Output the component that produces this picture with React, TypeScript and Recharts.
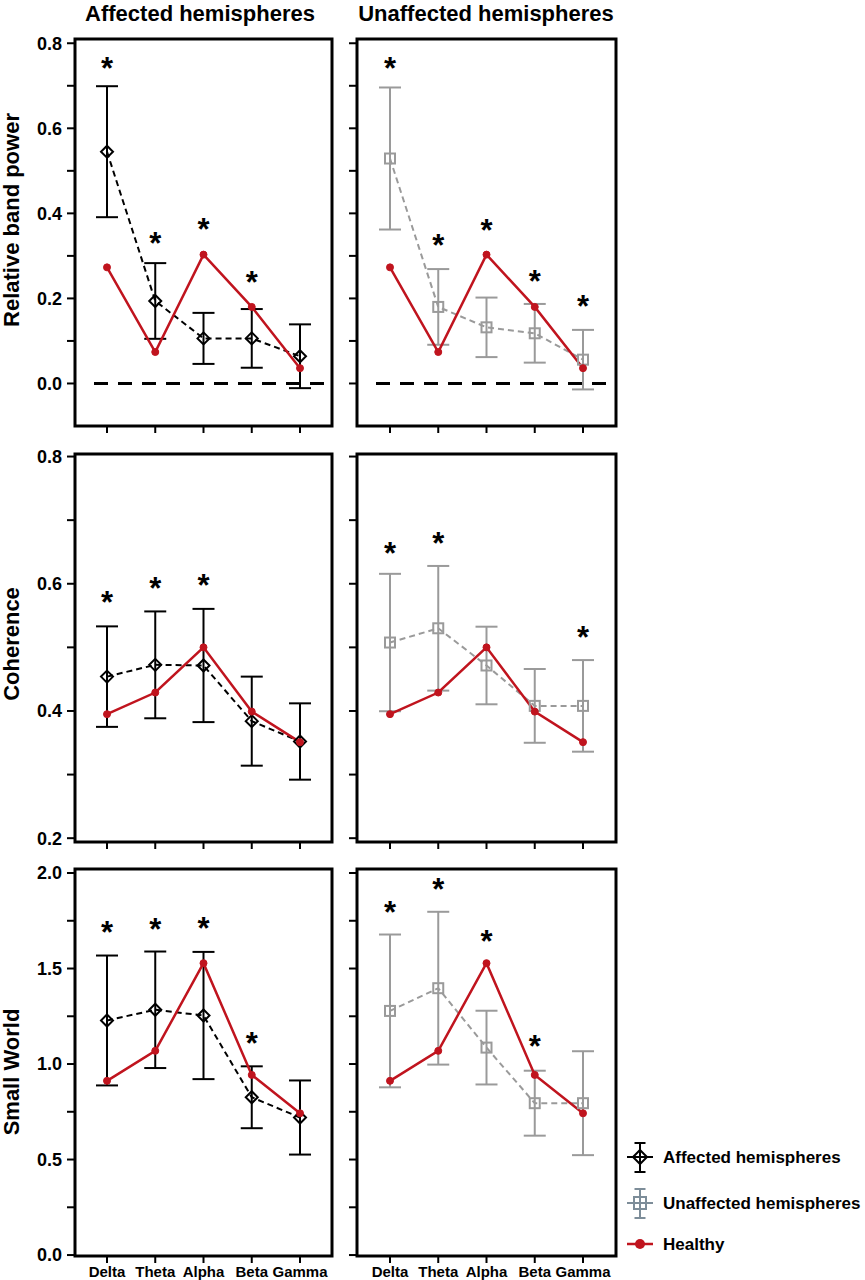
import React from 'react';
import { LineChart, Line, XAxis, YAxis, ErrorBar, ReferenceLine } from 'recharts';

const FONT = 'Liberation Sans, Arial, Helvetica, sans-serif';
const RED = '#c0141e';
const BLACK = '#000000';
const GRAY = '#9a9a9a';
const LEGEND_GRAY = '#7d8d99';

const bands = ['Delta', 'Theta', 'Alpha', 'Beta', 'Gamma'];

// Relative band power
const healthyPower = [0.273, 0.074, 0.303, 0.18, 0.036];
const affPowerMean = [0.545, 0.194, 0.106, 0.106, 0.064];
const affPowerErr = [0.154, 0.089, 0.06, 0.069, 0.075];
const affPowerStar = [0.757, 0.345, 0.377, 0.252, null];
const unaffPowerMean = [0.529, 0.18, 0.132, 0.118, 0.056];
const unaffPowerErr = [0.167, 0.089, 0.07, 0.069, 0.07];
const unaffPowerStar = [0.757, 0.339, 0.375, 0.255, 0.196];

// Coherence
const healthyCoh = [0.395, 0.429, 0.5, 0.399, 0.351];
const affCohMean = [0.454, 0.4725, 0.4715, 0.384, 0.352];
const affCohErr = [0.079, 0.084, 0.089, 0.07, 0.06];
const affCohStar = [0.58, 0.602, 0.607, null, null];
const unaffCohMean = [0.5076, 0.53, 0.4715, 0.408, 0.408];
const unaffCohErr = [0.108, 0.098, 0.061, 0.058, 0.072];
const unaffCohStar = [0.6585, 0.673, null, null, 0.525];

// Small world
const healthySw = [0.912, 1.069, 1.528, 0.943, 0.742];
const affSwMean = [1.228, 1.284, 1.254, 0.826, 0.72];
const affSwErr = [0.34, 0.305, 0.333, 0.162, 0.194];
const affSwStar = [1.724, 1.738, 1.741, 1.144, null];
const unaffSwMean = [1.278, 1.397, 1.086, 0.795, 0.795];
const unaffSwErr = [0.4, 0.4, 0.193, 0.17, 0.272];
const unaffSwStar = [1.825, 1.948, 1.677, 1.127, null];

// Axis ticks
const powerTicks = [0, 0.1, 0.2, 0.3, 0.4, 0.5, 0.6, 0.7, 0.8];
const powerTickLabels = ['0.0', '', '0.2', '', '0.4', '', '0.6', '', '0.8'];
const cohTicks = [0.2, 0.3, 0.4, 0.5, 0.6, 0.7, 0.8];
const cohTickLabels = ['0.2', '', '0.4', '', '0.6', '', '0.8'];
const swTicks = [0, 0.25, 0.5, 0.75, 1, 1.25, 1.5, 1.75, 2];
const swTickLabels = ['0.0', '', '0.5', '', '1.0', '', '1.5', '', '2.0'];

const buildRows = (mean: number[], err: number[], healthy: number[], star: (number | null)[]) =>
  bands.map((band, i) => ({ band, mean: mean[i], err: err[i], healthy: healthy[i], star: star[i] }));

const DiamondDot = (props: any) => {
  const { cx, cy, index } = props;
  if (cx == null || cy == null || isNaN(cy)) return <g key={`d${index}`} />;
  const s = 6;
  return (
    <polygon
      key={`d${index}`}
      points={`${cx},${cy - s} ${cx + s},${cy} ${cx},${cy + s} ${cx - s},${cy}`}
      fill="none"
      stroke={BLACK}
      strokeWidth={2}
    />
  );
};

const SquareDot = (props: any) => {
  const { cx, cy, index } = props;
  if (cx == null || cy == null || isNaN(cy)) return <g key={`s${index}`} />;
  const s = 5;
  return <rect key={`s${index}`} x={cx - s} y={cy - s} width={2 * s} height={2 * s} fill="none" stroke={GRAY} strokeWidth={2} />;
};

const StarDot = (props: any) => {
  const { cx, cy, index, payload } = props;
  if (cx == null || cy == null || isNaN(cy) || payload == null || payload.star == null) return <g key={`t${index}`} />;
  return (
    <text key={`t${index}`} x={cx} y={cy + 17} textAnchor="middle" fontSize={31} fontWeight="bold" fontFamily={FONT} fill={BLACK}>
      *
    </text>
  );
};

type PanelProps = {
  left: number;
  top: number;
  w: number;
  h: number;
  pad: number;
  data: any[];
  domain: [number, number];
  ticks: number[];
  labels: string[];
  showY: boolean;
  showX: boolean;
  color: string;
  marker: any;
  zero: boolean;
};

const Panel = ({ left, top, w, h, pad, data, domain, ticks, labels, showY, showX, color, marker, zero }: PanelProps) => {
  const chartW = w + 85;
  const chartH = h + 45;
  const fmtY = (v: number) => {
    if (!showY) return '';
    const i = ticks.findIndex((t) => Math.abs(t - v) < 1e-6);
    return i >= 0 ? labels[i] : '';
  };
  return (
    <div style={{ position: 'absolute', left: left - 75, top: top - 10 }}>
      <LineChart width={chartW} height={chartH} data={data} margin={{ top: 10, right: 10, bottom: 0, left: 0 }}>
        <XAxis
          dataKey="band"
          type="category"
          padding={{ left: pad, right: pad }}
          height={35}
          axisLine={false}
          tickLine={{ stroke: BLACK, strokeWidth: 2 }}
          tickSize={7}
          tickMargin={3}
          interval={0}
          tick={{ fill: BLACK, fontSize: 15, fontWeight: 'bold', fontFamily: FONT }}
          tickFormatter={(v: string) => (showX ? v : '')}
        />
        <YAxis
          type="number"
          domain={domain}
          ticks={ticks}
          allowDataOverflow
          width={75}
          axisLine={false}
          tickLine={{ stroke: BLACK, strokeWidth: 2 }}
          tickSize={8}
          tickMargin={5}
          interval={0}
          tick={{ fill: BLACK, fontSize: 18, fontWeight: 'bold', fontFamily: FONT }}
          tickFormatter={fmtY}
        />
        {zero && (
          <ReferenceLine
            y={0}
            stroke={BLACK}
            strokeWidth={3}
            strokeDasharray="0 19 14 10 14 10 14 10 14 10 14 10 14 10 14 10 14 10 14 10 14 10 14 10"
          />
        )}
        <Line
          dataKey="mean"
          stroke={color}
          strokeWidth={2}
          strokeDasharray="6 4"
          dot={marker}
          activeDot={false}
          isAnimationActive={false}
        >
          <ErrorBar dataKey="err" direction="y" width={11} stroke={color} strokeWidth={2} />
        </Line>
        <Line
          dataKey="healthy"
          stroke={RED}
          strokeWidth={2.5}
          dot={{ r: 3.5, fill: RED, stroke: RED, strokeWidth: 1 }}
          activeDot={false}
          isAnimationActive={false}
        />
        <Line dataKey="star" stroke="none" dot={StarDot} activeDot={false} isAnimationActive={false} legendType="none" />
      </LineChart>
    </div>
  );
};

const cols = [
  { left: 75, w: 257, pad: 32 },
  { left: 357, w: 259, pad: 33 },
];
const rows = [
  { top: 39, h: 387 },
  { top: 454, h: 388 },
  { top: 869, h: 387 },
];

export default function App() {
  const panels = [
    { r: 0, c: 0, data: buildRows(affPowerMean, affPowerErr, healthyPower, affPowerStar), domain: [-0.1, 0.81] as [number, number], ticks: powerTicks, labels: powerTickLabels, zero: true },
    { r: 0, c: 1, data: buildRows(unaffPowerMean, unaffPowerErr, healthyPower, unaffPowerStar), domain: [-0.1, 0.81] as [number, number], ticks: powerTicks, labels: powerTickLabels, zero: true },
    { r: 1, c: 0, data: buildRows(affCohMean, affCohErr, healthyCoh, affCohStar), domain: [0.194, 0.804] as [number, number], ticks: cohTicks, labels: cohTickLabels, zero: false },
    { r: 1, c: 1, data: buildRows(unaffCohMean, unaffCohErr, healthyCoh, unaffCohStar), domain: [0.194, 0.804] as [number, number], ticks: cohTicks, labels: cohTickLabels, zero: false },
    { r: 2, c: 0, data: buildRows(affSwMean, affSwErr, healthySw, affSwStar), domain: [-0.005, 2.021] as [number, number], ticks: swTicks, labels: swTickLabels, zero: false },
    { r: 2, c: 1, data: buildRows(unaffSwMean, unaffSwErr, healthySw, unaffSwStar), domain: [-0.005, 2.021] as [number, number], ticks: swTicks, labels: swTickLabels, zero: false },
  ];

  return (
    <div style={{ position: 'absolute', left: 0, top: 0, width: 865, height: 1280, background: '#fff', fontFamily: FONT, overflow: 'hidden' }}>
      {panels.map((p, i) => {
        const col = cols[p.c];
        const row = rows[p.r];
        return (
          <Panel
            key={i}
            left={col.left}
            top={row.top}
            w={col.w}
            h={row.h}
            pad={col.pad}
            data={p.data}
            domain={p.domain}
            ticks={p.ticks}
            labels={p.labels}
            showY={p.c === 0}
            showX={p.r === 2}
            color={p.c === 0 ? BLACK : GRAY}
            marker={p.c === 0 ? DiamondDot : SquareDot}
            zero={p.zero}
          />
        );
      })}
      <svg width={865} height={1280} style={{ position: 'absolute', left: 0, top: 0, pointerEvents: 'none' }}>
        {panels.map((p, i) => {
          const col = cols[p.c];
          const row = rows[p.r];
          return <rect key={i} x={col.left} y={row.top} width={col.w} height={row.h} fill="none" stroke={BLACK} strokeWidth={3} />;
        })}
        <text x={200} y={21} textAnchor="middle" fontSize={22} fontWeight="bold" fontFamily={FONT} fill={BLACK}>
          Affected hemispheres
        </text>
        <text x={486} y={21} textAnchor="middle" fontSize={22} fontWeight="bold" fontFamily={FONT} fill={BLACK}>
          Unaffected hemispheres
        </text>
        <text transform="translate(19,220) rotate(-90)" textAnchor="middle" fontSize={22} fontWeight="bold" fontFamily={FONT} fill={BLACK}>
          Relative band power
        </text>
        <text transform="translate(19,644) rotate(-90)" textAnchor="middle" fontSize={22} fontWeight="bold" fontFamily={FONT} fill={BLACK}>
          Coherence
        </text>
        <text transform="translate(19,1072) rotate(-90)" textAnchor="middle" fontSize={22} fontWeight="bold" fontFamily={FONT} fill={BLACK}>
          Small World
        </text>

        {/* Legend */}
        <g stroke={BLACK} strokeWidth={2} fill="none">
          <line x1={640} y1={1143} x2={640} y2={1172} />
          <line x1={634.5} y1={1143} x2={645.5} y2={1143} />
          <line x1={634.5} y1={1172} x2={645.5} y2={1172} />
          <line x1={627} y1={1157} x2={653} y2={1157} />
          <polygon points="640,1150 647,1157 640,1164 633,1157" />
        </g>
        <text x={663} y={1163} fontSize={17} fontWeight="bold" fontFamily={FONT} fill={BLACK}>
          Affected hemispheres
        </text>
        <g stroke={LEGEND_GRAY} strokeWidth={2} fill="none">
          <line x1={640} y1={1189} x2={640} y2={1218} />
          <line x1={634.5} y1={1189} x2={645.5} y2={1189} />
          <line x1={634.5} y1={1218} x2={645.5} y2={1218} />
          <line x1={627} y1={1203} x2={653} y2={1203} />
          <rect x={634} y={1197} width={12} height={12} />
        </g>
        <text x={663} y={1209} fontSize={17} fontWeight="bold" fontFamily={FONT} fill={BLACK}>
          Unaffected hemispheres
        </text>
        <line x1={627} y1={1244} x2={653} y2={1244} stroke={RED} strokeWidth={2.5} />
        <circle cx={640} cy={1244} r={5} fill={RED} />
        <text x={663} y={1250} fontSize={17} fontWeight="bold" fontFamily={FONT} fill={BLACK}>
          Healthy
        </text>
      </svg>
    </div>
  );
}
